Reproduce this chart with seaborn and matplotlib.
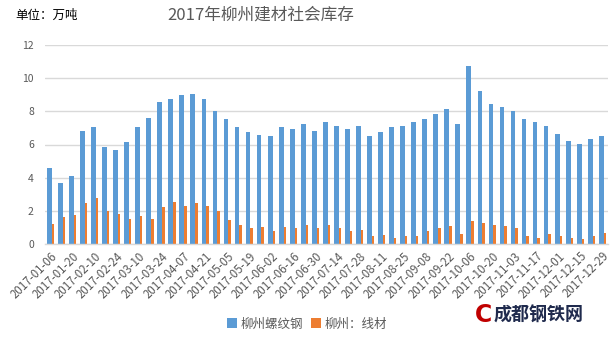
import matplotlib
matplotlib.use("Agg")
import matplotlib.pyplot as plt
from matplotlib.patches import Patch
import seaborn as sns
import pandas as pd

# Weekly social inventory, Liuzhou, 2017 (unit: 10k tonnes)
dates = [
    "2017-01-06", "2017-01-13", "2017-01-20", "2017-02-03", "2017-02-10",
    "2017-02-17", "2017-02-24", "2017-03-03", "2017-03-10", "2017-03-17",
    "2017-03-24", "2017-03-31", "2017-04-07", "2017-04-14", "2017-04-21",
    "2017-04-28", "2017-05-05", "2017-05-12", "2017-05-19", "2017-05-26",
    "2017-06-02", "2017-06-09", "2017-06-16", "2017-06-23", "2017-06-30",
    "2017-07-07", "2017-07-14", "2017-07-21", "2017-07-28", "2017-08-04",
    "2017-08-11", "2017-08-18", "2017-08-25", "2017-09-01", "2017-09-08",
    "2017-09-15", "2017-09-22", "2017-09-29", "2017-10-06", "2017-10-13",
    "2017-10-20", "2017-10-27", "2017-11-03", "2017-11-10", "2017-11-17",
    "2017-11-24", "2017-12-01", "2017-12-08", "2017-12-15", "2017-12-22",
    "2017-12-29",
]
rebar = [
    4.60, 3.66, 4.12, 6.83, 7.08, 5.87, 5.69, 6.15, 7.08, 7.60,
    8.58, 8.76, 8.98, 9.05, 8.74, 8.04, 7.54, 7.06, 6.73, 6.57,
    6.51, 7.06, 6.93, 7.22, 6.83, 7.36, 7.12, 6.93, 7.12, 6.51,
    6.75, 7.06, 7.12, 7.36, 7.54, 7.84, 8.14, 7.24, 10.73, 9.23,
    8.44, 8.26, 8.02, 7.54, 7.36, 7.12, 6.63, 6.21, 6.03, 6.33,
    6.51,
]
wire = [
    1.23, 1.63, 1.75, 2.47, 2.77, 1.99, 1.81, 1.51, 1.69, 1.51,
    2.23, 2.53, 2.29, 2.47, 2.29, 1.99, 1.45, 1.15, 0.96, 1.03,
    0.78, 1.03, 0.96, 1.15, 0.96, 1.15, 0.96, 0.78, 0.84, 0.48,
    0.54, 0.36, 0.48, 0.48, 0.78, 0.96, 1.09, 0.60, 1.39, 1.27,
    1.15, 1.09, 0.96, 0.48, 0.36, 0.60, 0.48, 0.36, 0.30, 0.48,
    0.66,
]
series_names = ["柳州螺纹钢", "柳州：线材"]
title = "2017年柳州建材社会库存"
unit_label = "单位：万吨"
y_ticks = [0, 2, 4, 6, 8, 10, 12]

colors = ["#5B9BD5", "#ED7D31"]
grey = "#595959"

sns.set_theme(style="white")
plt.rcParams["font.family"] = ["Noto Sans CJK SC", "DejaVu Sans"]

df = pd.DataFrame({
    "date": dates * 2,
    "value": rebar + wire,
    "series": [series_names[0]] * len(dates) + [series_names[1]] * len(dates),
})

fig = plt.figure(figsize=(6.12, 3.37), dpi=100)
ax = fig.add_axes([45 / 612, 1 - 244 / 337, 563 / 612, 199 / 337])

sns.barplot(data=df, x="date", y="value", hue="series", hue_order=series_names,
            palette=colors, order=dates, ax=ax, legend=False, saturation=1,
            errorbar=None, width=0.64)

# Excel-like clustering: wide blue bar next to a narrower orange bar
for i, bar in enumerate(ax.containers[0]):
    bar.set_x(i - 0.32)
    bar.set_width(0.43)
    bar.set_edgecolor("none")
for i, bar in enumerate(ax.containers[1]):
    bar.set_x(i + 0.11)
    bar.set_width(0.22)
    bar.set_edgecolor("none")

ax.set_xlim(-0.5, len(dates) - 0.5)
ax.set_ylim(0, 12)
ax.set_yticks(y_ticks)
ax.set_yticklabels([str(t) for t in y_ticks], color=grey, fontsize=7.5)
ax.yaxis.grid(True, color="#D9D9D9", linewidth=1)
ax.set_axisbelow(True)
ax.set_xlabel("")
ax.set_ylabel("")

ax.set_xticks(range(0, len(dates), 2))
ax.set_xticklabels(dates[::2], rotation=45, ha="right", rotation_mode="anchor",
                   color=grey, fontsize=8.3)
ax.tick_params(axis="both", length=0, pad=4)
ax.tick_params(axis="y", pad=8)

for side in ["top", "right", "left"]:
    ax.spines[side].set_visible(False)
ax.spines["bottom"].set_color("#D9D9D9")
ax.spines["bottom"].set_linewidth(1)

fig.text(261 / 612, 1 - 15 / 337, title, ha="center", va="center",
         fontsize=12, color=grey)
fig.text(15 / 612, 1 - 15 / 337, unit_label, ha="left", va="center",
         fontsize=9, color="black")

handles = [Patch(facecolor=c, edgecolor="none") for c in colors]
fig.legend(handles, series_names, loc="center", bbox_to_anchor=(307 / 612, 1 - 324 / 337),
           ncol=2, frameon=False, fontsize=9, labelcolor=grey,
           handlelength=0.8, handleheight=0.8, handletextpad=0.3, columnspacing=0.6)

# site logo in the lower-right corner
fig.text(484 / 612, 1 - 315 / 337, "C", ha="center", va="center",
         fontsize=17, fontweight="bold", color="#C00000", family="DejaVu Sans")
fig.text(494 / 612, 1 - 315 / 337, "成都钢铁网", ha="left", va="center",
         fontsize=13, fontweight="bold", color="#1F2A4D")

fig.savefig("out.png", dpi=100)
